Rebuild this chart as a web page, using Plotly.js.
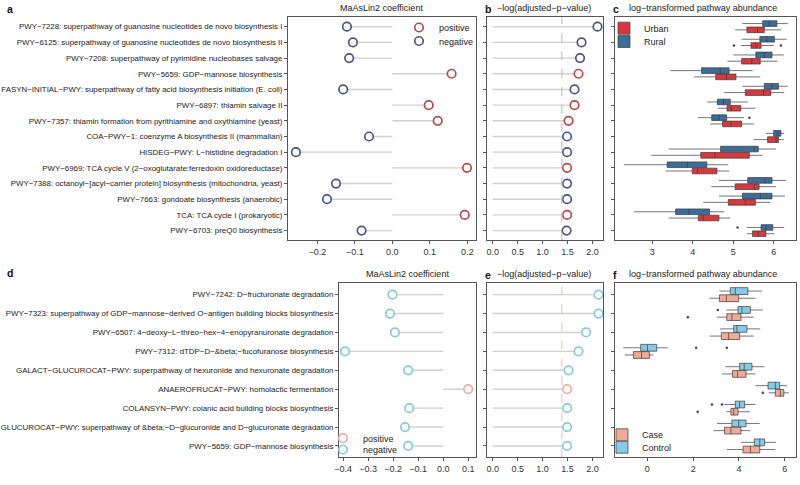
<!DOCTYPE html>
<html><head><meta charset="utf-8">
<script src="https://cdn.plot.ly/plotly-3.0.1.min.js"></script>
<style>html,body{margin:0;padding:0;background:#fff}</style>
</head><body><div id="chart" style="width:800px;height:485px"></div>
<script>
// ---------- Top: Urban vs Rural ----------
const pathwaysTop = [
"PWY−7228: superpathway of guanosine nucleotides de novo biosynthesis I",
"PWY−6125: superpathway of guanosine nucleotides de novo biosynthesis II",
"PWY−7208: superpathway of pyrimidine nucleobases salvage",
"PWY−5659: GDP−mannose biosynthesis",
"FASYN−INITIAL−PWY: superpathway of fatty acid biosynthesis initiation (E. coli)",
"PWY−6897: thiamin salvage II",
"PWY−7357: thiamin formation from pyrithiamine and oxythiamine (yeast)",
"COA−PWY−1: coenzyme A biosynthesis II (mammalian)",
"HISDEG−PWY: L−histidine degradation I",
"PWY−6969: TCA cycle V (2−oxoglutarate:ferredoxin oxidoreductase)",
"PWY−7388: octanoyl−[acyl−carrier protein] biosynthesis (mitochondria, yeast)",
"PWY−7663: gondoate biosynthesis (anaerobic)",
"TCA: TCA cycle I (prokaryotic)",
"PWY−6703: preQ0 biosynthesis"];
const coefTop = [-0.121,-0.105,-0.115,0.158,-0.131,0.097,0.121,-0.062,-0.257,0.199,-0.150,-0.174,0.193,-0.082];
const negLogPTop = [2.10,1.78,1.75,1.72,1.64,1.64,1.52,1.49,1.49,1.49,1.49,1.49,1.49,1.48];

const ruralLo  = [5.23,5.21,5.01,3.45,5.23,4.36,4.13,5.81,3.41,2.30,4.65,4.65,2.55,5.34];
const ruralQ1  = [5.73,5.66,5.56,4.22,5.77,4.61,4.47,6.00,4.69,3.37,5.36,5.23,3.58,5.69];
const ruralMed = [5.89,5.83,5.77,4.68,5.96,4.76,4.65,6.10,5.52,3.87,5.79,5.67,3.91,5.81];
const ruralQ3  = [6.08,6.02,5.96,4.90,6.12,4.93,4.84,6.18,5.62,4.35,5.96,5.96,4.42,5.98];
const ruralHi  = [6.35,6.32,6.25,5.48,6.35,5.36,5.27,6.26,6.06,4.88,6.31,6.28,4.78,6.26];
const urbanLo  = [5.05,5.19,4.86,4.03,4.78,4.62,4.43,5.50,2.98,3.33,4.46,4.26,3.41,5.34];
const urbanQ1  = [5.34,5.44,5.21,4.57,5.30,4.85,4.74,5.85,4.20,3.99,5.05,4.88,4.14,5.48];
const urbanMed = [5.60,5.56,5.46,4.84,5.75,4.95,4.94,6.06,4.55,4.12,5.52,5.30,4.26,5.62];
const urbanQ3  = [5.77,5.69,5.67,5.07,5.93,5.19,5.21,6.12,5.40,4.60,5.64,5.55,4.65,5.81];
const urbanHi  = [6.18,6.00,6.10,5.67,6.26,5.55,5.52,6.25,5.73,4.90,6.06,5.92,4.93,6.02];
const urbanOutRow = [1,1];      const urbanOutVal = [5.02,6.18];
const ruralOutRow = [6,13];     const ruralOutVal = [5.40,5.11];

// ---------- Bottom: Case vs Control ----------
const pathwaysBot = [
"PWY−7242: D−fructuronate degradation",
"PWY−7323: superpathway of GDP−mannose−derived O−antigen building blocks biosynthesis",
"PWY−6507: 4−deoxy−L−threo−hex−4−enopyranuronate degradation",
"PWY−7312: dTDP−D−&amp;beta;−fucofuranose biosynthesis",
"GALACT−GLUCUROCAT−PWY: superpathway of hexuronide and hexuronate degradation",
"ANAEROFRUCAT−PWY: homolactic fermentation",
"COLANSYN−PWY: colanic acid building blocks biosynthesis",
"GLUCUROCAT−PWY: superpathway of &amp;beta;−D−glucuronide and D−glucuronate degradation",
"PWY−5659: GDP−mannose biosynthesis"];
const coefBot = [-0.203,-0.213,-0.193,-0.393,-0.140,0.100,-0.136,-0.153,-0.140];
const negLogPBot = [2.12,2.12,1.87,1.72,1.52,1.49,1.49,1.49,1.49];

const controlLo  = [3.15,3.45,3.18,-1.05,3.40,4.72,3.36,3.04,4.10];
const controlQ1  = [3.62,3.96,3.77,-0.29,4.03,5.27,3.84,3.69,4.67];
const controlMed = [3.84,4.13,3.91,0.00,4.23,5.59,4.03,3.99,4.91];
const controlQ3  = [4.39,4.50,4.35,0.41,4.57,5.78,4.25,4.31,5.12];
const controlHi  = [5.01,5.05,4.93,0.89,5.11,6.10,4.72,4.91,5.62];
const caseLo  = [2.72,3.04,2.72,-0.98,3.26,5.30,3.45,2.89,3.47];
const caseQ1  = [3.15,3.47,3.23,-0.61,3.72,5.59,3.65,3.37,4.18];
const caseMed = [3.45,3.69,3.55,-0.25,3.94,5.81,3.77,3.65,4.50];
const caseQ3  = [3.99,4.09,4.03,0.09,4.31,5.96,3.96,4.09,4.91];
const caseHi  = [4.72,4.64,4.64,0.26,4.72,6.18,4.47,4.50,5.59];
const controlOutRow = [1,3,3,6,6]; const controlOutVal = [3.08,2.13,3.47,2.82,3.26];
const caseOutRow = [1,5,6];        const caseOutVal = [1.77,5.04,2.20];

const threshold = 1.386; // -ln(0.25)

// ---------- styles ----------
const colPosTop = '#b34c43', colNegTop = '#4a5488';
const colPosBot = '#eeae9d', colNegBot = '#86c8e2';
const colUrban = '#d8383c', colRural = '#3b6d9a';
const colCase = '#f0aa98', colControl = '#86cbe6';
const segCol = '#d0d0d0';

const idx = n => Array.from({length:n},(_,i)=>i);

function segments(vals, xa, ya){
  const xs=[], ys=[];
  vals.forEach((v,i)=>{ xs.push(0, v, null); ys.push(i,i,null); });
  return {type:'scatter', mode:'lines', x:xs, y:ys, xaxis:xa, yaxis:ya,
    line:{color:segCol, width:1.4}, showlegend:false, hoverinfo:'skip'};
}
function dots(vals, signs, wantPos, xa, ya, color, name, legend, show){
  const xs=[], ys=[];
  vals.forEach((v,i)=>{ if((signs[i]>0)===wantPos){ xs.push(v); ys.push(i);} });
  return {type:'scatter', mode:'markers', x:xs, y:ys, xaxis:xa, yaxis:ya, name:name,
    legend:legend, showlegend:show,
    marker:{symbol:'circle', size:8.5, color:'#ffffff', line:{color:color, width:1.7}}};
}
function boxes(lo,q1,med,q3,hi,offset,xa,ya,fill,name,legend){
  return {type:'box', orientation:'h', y:idx(lo.length).map(i=>i+offset),
    lowerfence:lo, q1:q1, median:med, q3:q3, upperfence:hi,
    xaxis:xa, yaxis:ya, name:name, legend:legend,
    fillcolor:fill, line:{color:'#3a3a3a', width:0.7}, whiskerwidth:0,
    width:0.36, boxpoints:false, hoverinfo:'skip'};
}
function outliers(rows, vals, offset, xa, ya){
  return {type:'scatter', mode:'markers', x:vals, y:rows.map(r=>r+offset), xaxis:xa, yaxis:ya,
    marker:{size:2.5, color:'#444'}, showlegend:false, hoverinfo:'skip'};
}

const data = [
  segments(coefTop,'x','y'),
  dots(coefTop,coefTop,true,'x','y',colPosTop,'positive','legend',true),
  dots(coefTop,coefTop,false,'x','y',colNegTop,'negative','legend2',true),
  segments(negLogPTop,'x2','y2'),
  dots(negLogPTop,coefTop,true,'x2','y2',colPosTop,'positive','legend',false),
  dots(negLogPTop,coefTop,false,'x2','y2',colNegTop,'negative','legend2',false),
  boxes(ruralLo,ruralQ1,ruralMed,ruralQ3,ruralHi,-0.2,'x3','y3',colRural,'Rural','legend4'),
  boxes(urbanLo,urbanQ1,urbanMed,urbanQ3,urbanHi,0.2,'x3','y3',colUrban,'Urban','legend3'),
  outliers(ruralOutRow,ruralOutVal,-0.2,'x3','y3'),
  outliers(urbanOutRow,urbanOutVal,0.2,'x3','y3'),

  segments(coefBot,'x4','y4'),
  dots(coefBot,coefBot,true,'x4','y4',colPosBot,'positive','legend5',true),
  dots(coefBot,coefBot,false,'x4','y4',colNegBot,'negative','legend6',true),
  segments(negLogPBot,'x5','y5'),
  dots(negLogPBot,coefBot,true,'x5','y5',colPosBot,'positive','legend5',false),
  dots(negLogPBot,coefBot,false,'x5','y5',colNegBot,'negative','legend6',false),
  boxes(controlLo,controlQ1,controlMed,controlQ3,controlHi,-0.19,'x6','y6',colControl,'Control','legend8'),
  boxes(caseLo,caseQ1,caseMed,caseQ3,caseHi,0.19,'x6','y6',colCase,'Case','legend7'),
  outliers(controlOutRow,controlOutVal,-0.19,'x6','y6'),
  outliers(caseOutRow,caseOutVal,0.19,'x6','y6'),
];

const W=800, H=485;
const dx = (a,b)=>[a/W, b/W];
const dy = (top,bot)=>[1-bot/H, 1-top/H];
const topY = dy(17.3,240), botY = dy(283.3,457.3);
const colA = dx(288,476), colB = dx(486.7,603), colC = dx(615.3,795.5);
const colD = dx(339,475.7);

const axBase = {showline:true, mirror:true, linecolor:'#555', linewidth:1, ticks:'outside',
  ticklen:3, tickcolor:'#555', showgrid:false, zeroline:false,
  tickfont:{size:9, color:'#333'}, fixedrange:true};
function yax(n, labels, domain, anchor, show){
  return Object.assign({}, axBase, {domain:domain, anchor:anchor,
    range:[n-1+0.6, -0.6], tickmode:'array', tickvals:idx(n),
    ticktext: show ? labels : labels.map(()=>''), tickfont:{size:7.9, color:'#1a1a1a'}});
}
function xax(domain, anchor, range, extra){
  return Object.assign({}, axBase, {domain:domain, anchor:anchor, range:range}, extra||{});
}

const titleFont = {size:9, color:'#222'};
const letterFont = {size:10.5, color:'#111', family:'Liberation Sans, Arial, sans-serif'};
function ann(text, xpx, ypx, font, anchor){
  return {text:text, xref:'paper', yref:'paper', x:xpx/W, y:1-ypx/H, showarrow:false,
    xanchor:anchor||'center', yanchor:'middle', font:font};
}

const legBase = {bgcolor:'rgba(0,0,0,0)', font:{size:9, color:'#222'}, itemwidth:30,
  xanchor:'left', yanchor:'top', tracegroupgap:0};
const leg = (xpx, ypx) => Object.assign({}, legBase, {x:xpx/W, y:1-ypx/H});

const layout = {
  width:W, height:H, margin:{l:0,r:0,t:0,b:0},
  paper_bgcolor:'#fff', plot_bgcolor:'#fff', boxmode:'overlay', showlegend:true,
  font:{family:'Liberation Sans, Arial, Helvetica, sans-serif', size:8, color:'#222'},
  xaxis: xax(colA,'y',[-0.278,0.223],{tickvals:[-0.2,-0.1,0,0.1,0.2], tickformat:'.1f'}),
  yaxis: yax(14,pathwaysTop,topY,'x',true),
  xaxis2: xax(colB,'y2',[-0.12,2.21],{tickvals:[0,0.5,1,1.5,2], tickformat:'.1f'}),
  yaxis2: yax(14,pathwaysTop,topY,'x2',false),
  xaxis3: xax(colC,'y3',[2.09,6.54],{tickvals:[3,4,5,6]}),
  yaxis3: yax(14,pathwaysTop,topY,'x3',false),
  xaxis4: xax(colD,'y4',[-0.417,0.13],{tickvals:[-0.4,-0.3,-0.2,-0.1,0,0.1], tickformat:'.1f'}),
  yaxis4: yax(9,pathwaysBot,botY,'x4',true),
  xaxis5: xax(colB,'y5',[-0.12,2.21],{tickvals:[0,0.5,1,1.5,2], tickformat:'.1f'}),
  yaxis5: yax(9,pathwaysBot,botY,'x5',false),
  xaxis6: xax(colC,'y6',[-1.40,6.47],{tickvals:[0,2,4,6]}),
  yaxis6: yax(9,pathwaysBot,botY,'x6',false),
  legend:  leg(399,13),
  legend2: leg(399,26.5),
  legend3: leg(604,13.7),
  legend4: leg(604,27),
  legend5: leg(323,423.7),
  legend6: leg(323,435),
  legend7: leg(602,420.3),
  legend8: leg(602,432.7),
  shapes:[
    {type:'line', xref:'x2', yref:'y2 domain', x0:threshold, x1:threshold, y0:0, y1:1,
     line:{color:'#b8b8b8', width:1, dash:'dash'}},
    {type:'line', xref:'x5', yref:'y5 domain', x0:threshold, x1:threshold, y0:0, y1:1,
     line:{color:'#e6c3a8', width:1, dash:'dash'}}
  ],
  annotations:[
    ann('<b>a</b>',5,9,letterFont,'left'),
    ann('MaAsLin2 coefficient',381,8,titleFont),
    ann('<b>b</b>',483,9,letterFont,'left'),
    ann('−log(adjusted−p−value)',544,8,titleFont),
    ann('<b>c</b>',611,9,letterFont,'left'),
    ann('log−transformed pathway abundance',703,8,titleFont),
    ann('<b>d</b>',5,273,letterFont,'left'),
    ann('MaAsLin2 coefficient',407,274,titleFont),
    ann('<b>e</b>',483,275,letterFont,'left'),
    ann('−log(adjusted−p−value)',544,274,titleFont),
    ann('<b>f</b>',611,275,letterFont,'left'),
    ann('log−transformed pathway abundance',703,274,titleFont),
  ]
};

Plotly.newPlot('chart', data, layout, {displayModeBar:false, staticPlot:true});
</script></body></html>
